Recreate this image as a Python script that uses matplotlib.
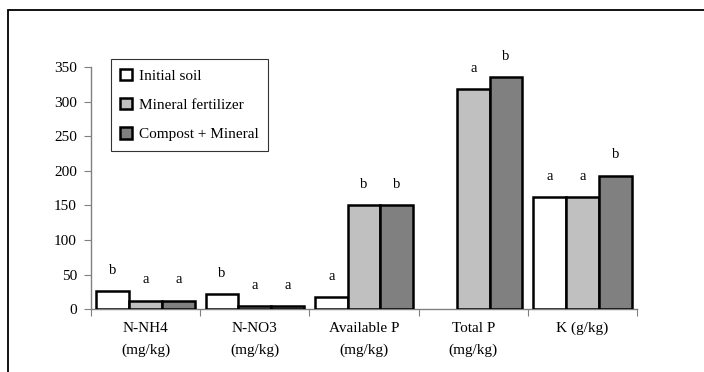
import numpy as np
import matplotlib
matplotlib.use("Agg")
import matplotlib.pyplot as plt
from matplotlib.patches import Rectangle

plt.rcParams["font.family"] = ["Liberation Serif", "DejaVu Serif"]
plt.rcParams["font.size"] = 11

categories = ["N-NH4\n(mg/kg)", "N-NO3\n(mg/kg)", "Available P\n(mg/kg)",
              "Total P\n(mg/kg)", "K (g/kg)"]
series = ["Initial soil", "Mineral fertilizer", "Compost + Mineral"]
initial = [26, 22, 17, np.nan, 162]
mineral = [12, 4, 150, 318, 162]
compost = [12, 4, 150, 335, 193]
letters_initial = ["b", "b", "a", "", "a"]
letters_mineral = ["a", "a", "b", "a", "a"]
letters_compost = ["a", "a", "b", "b", "b"]

colors = ["white", "#c0c0c0", "#808080"]

fig = plt.figure(figsize=(7.04, 3.72), dpi=100)
ax = fig.add_axes([0.129, 0.169, 0.776, 0.651])

x = np.arange(len(categories))
w = 0.3
values = [initial, mineral, compost]
letters = [letters_initial, letters_mineral, letters_compost]
for i, (vals, lab, col, lets) in enumerate(zip(values, series, colors, letters)):
    pos = x + (i - 1) * w
    ax.bar(pos, vals, width=w, color=col, edgecolor="black", linewidth=1.8,
           label=lab, zorder=3)
    for px, v, t in zip(pos, vals, lets):
        if t and not np.isnan(v):
            ax.annotate(t, (px, v), xytext=(0, 15), textcoords="offset points",
                        ha="center", va="center", fontsize=10.5)

ax.set_xlim(-0.5, len(categories) - 0.5)
ax.set_ylim(0, 350)
ax.set_yticks(range(0, 351, 50))

# group boundaries get the tick marks, names sit at group centres
ax.set_xticks(np.arange(-0.5, len(categories), 1.0))
ax.set_xticklabels([])
ax.set_xticks(x, minor=True)
ax.set_xticklabels(categories, minor=True, linespacing=1.85)
ax.tick_params(axis="x", which="minor", length=0, pad=9)
ax.tick_params(axis="x", which="major", length=5, color="#808080", direction="out")
ax.tick_params(axis="y", length=5, color="#808080", direction="out", pad=5)

for s in ["top", "right"]:
    ax.spines[s].set_visible(False)
for s in ["left", "bottom"]:
    ax.spines[s].set_color("#808080")
    ax.spines[s].set_linewidth(1.0)

leg = fig.legend(loc="upper left", bbox_to_anchor=(0.157, 0.841), frameon=True,
                 fancybox=False, edgecolor="black", handlelength=0.75,
                 handleheight=0.75, handletextpad=0.45, labelspacing=1.0,
                 borderpad=0.65, borderaxespad=0, fontsize=11)
leg.get_frame().set_linewidth(0.8)
for h in leg.legend_handles:
    h.set_linewidth(1.8)

fig.patches.append(Rectangle((8 / 704, -0.1), 1.1, 1 - 10 / 372 + 0.1,
                             transform=fig.transFigure, fill=False,
                             edgecolor="black", linewidth=1.3))

fig.savefig("out.png", dpi=100)
